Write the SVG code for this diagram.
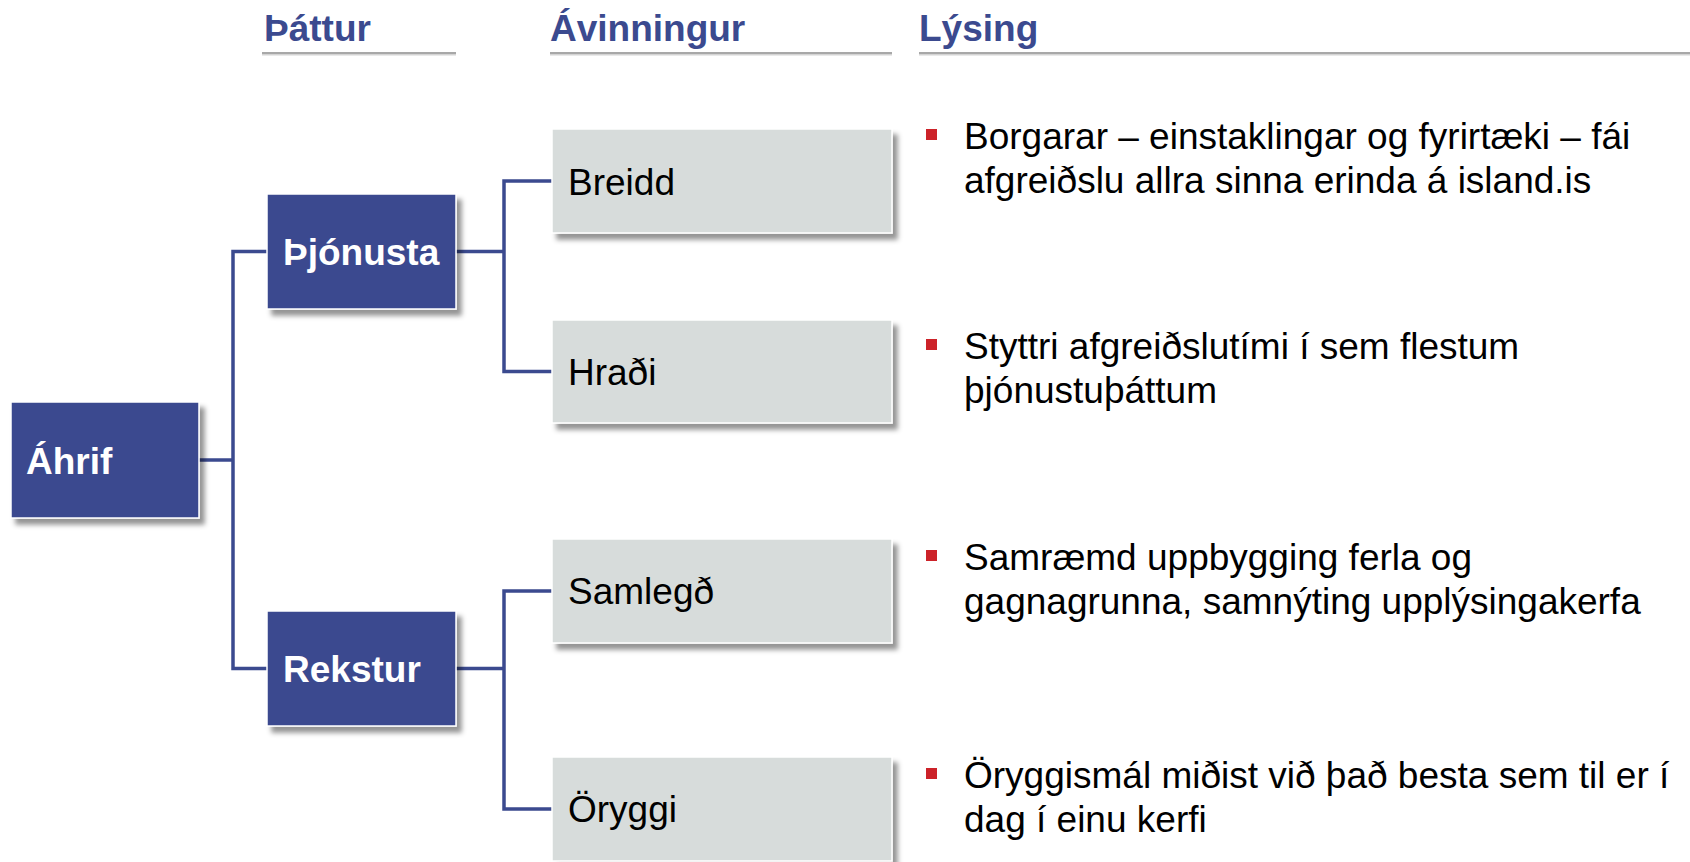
<svg xmlns="http://www.w3.org/2000/svg" width="1690" height="862" viewBox="0 0 1690 862">
<defs>
<filter id="sh" x="-10%" y="-10%" width="130%" height="140%">
<feDropShadow dx="5" dy="6" stdDeviation="2.5" flood-color="#000" flood-opacity="0.42"/>
</filter>
<style>
text{font-family:"Liberation Sans",Arial,sans-serif}
.hdr{font-size:37px;font-weight:bold;fill:#3b4a8f}
.ul1{fill:#a8a8a8}
.ul2{fill:#d4d4d4}
.blue rect{fill:#3b4a8f;stroke:#ffffff;stroke-width:1.5;filter:url(#sh)}
.blue text{font-size:37px;font-weight:bold;fill:#ffffff}
.gray rect{fill:#d7dcdb;stroke:#ffffff;stroke-width:1.5;filter:url(#sh)}
.gray text{font-size:37px;fill:#000000}
.desc text{font-size:37px;fill:#000000}
.bul{fill:#cc2229}
.conn path{fill:none;stroke:#3b4a8f;stroke-width:3.5}
</style>
</defs>
<rect width="1690" height="862" fill="#ffffff"/>
<g id="headers">
<text class="hdr" x="264" y="41">Þáttur</text>
<rect class="ul1" x="262" y="52" width="194" height="2"/>
<rect class="ul2" x="262" y="54" width="194" height="1.5"/>
<text class="hdr" x="550" y="41">Ávinningur</text>
<rect class="ul1" x="550" y="52" width="342" height="2"/>
<rect class="ul2" x="550" y="54" width="342" height="1.5"/>
<text class="hdr" x="919" y="41">Lýsing</text>
<rect class="ul1" x="919" y="52" width="771" height="2"/>
<rect class="ul2" x="919" y="54" width="771" height="1.5"/>
</g>
<g id="connectors" class="conn">
<path d="M199 460 H233"/>
<path d="M267 251.5 H233 V668.5 H267"/>
<path d="M456 251.5 H504"/>
<path d="M552 181 H504 V371.5 H552"/>
<path d="M456 668.5 H504"/>
<path d="M552 591 H504 V809 H552"/>
</g>
<g id="ahrif" class="blue">
<rect x="11" y="402" width="188" height="116"/>
<text x="26" y="473.5">Áhrif</text>
</g>
<g id="thjonusta" class="blue">
<rect x="267" y="194" width="189" height="115"/>
<text x="283" y="265">Þjónusta</text>
</g>
<g id="rekstur" class="blue">
<rect x="267" y="611" width="189" height="115"/>
<text x="283" y="682">Rekstur</text>
</g>
<g id="breidd" class="gray">
<rect x="552" y="129" width="340" height="104"/>
<text x="568" y="195">Breidd</text>
</g>
<g id="hradi" class="gray">
<rect x="552" y="320" width="340" height="103"/>
<text x="568" y="385">Hraði</text>
</g>
<g id="samlegd" class="gray">
<rect x="552" y="539" width="340" height="104"/>
<text x="568" y="604">Samlegð</text>
</g>
<g id="oryggi" class="gray">
<rect x="552" y="757" width="340" height="104"/>
<text x="568" y="822">Öryggi</text>
</g>
<g id="desc1" class="desc">
<rect class="bul" x="926" y="129" width="11" height="11"/>
<text x="964" y="149">Borgarar – einstaklingar og fyrirtæki – fái<tspan x="964" y="193">afgreiðslu allra sinna erinda á island.is</tspan></text>
</g>
<g id="desc2" class="desc">
<rect class="bul" x="926" y="339" width="11" height="11"/>
<text x="964" y="359">Styttri afgreiðslutími í sem flestum<tspan x="964" y="403">þjónustuþáttum</tspan></text>
</g>
<g id="desc3" class="desc">
<rect class="bul" x="926" y="550" width="11" height="11"/>
<text x="964" y="570">Samræmd uppbygging ferla og<tspan x="964" y="614">gagnagrunna, samnýting upplýsingakerfa</tspan></text>
</g>
<g id="desc4" class="desc">
<rect class="bul" x="926" y="768" width="11" height="11"/>
<text x="964" y="788">Öryggismál miðist við það besta sem til er í<tspan x="964" y="832">dag í einu kerfi</tspan></text>
</g>
</svg>
